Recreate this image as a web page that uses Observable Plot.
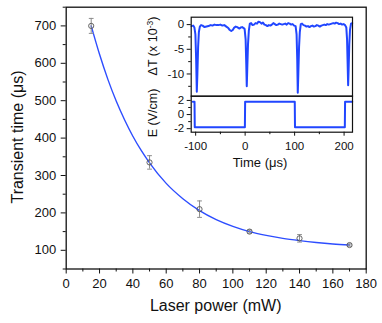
<!DOCTYPE html>
<html><head><meta charset="utf-8">
<script src="https://cdn.jsdelivr.net/npm/d3@7"></script>
<script src="https://cdn.jsdelivr.net/npm/@observablehq/plot@0.6"></script>
<style>
body{margin:0;background:#fff;}
#wrap{position:relative;width:382px;height:323px;font-family:"Liberation Sans",Arial,sans-serif;color:#111;overflow:hidden;}
.lab{position:absolute;white-space:nowrap;line-height:1;transform:translate(-50%,-50%);}
.rot{transform:translate(-50%,-50%) rotate(-90deg);}
sup{font-size:0.68em;vertical-align:0.45em;line-height:0;}
</style></head><body><div id="wrap"></div>
<script>
// ---- main chart data ----
const laserPower = [15, 50, 80, 110, 140, 170];
const transientTime = [700, 335, 210, 150, 132, 114];
const transientErr = [20, 18, 22, 4, 10, 3];
const fitPower = [15, 20, 25, 30, 35, 40, 45, 50, 60, 70, 80, 90, 100, 110, 120, 130, 140, 150, 160, 170];
const fitTime = [700, 624, 557, 499, 449, 405, 367, 334, 279, 238, 206, 182, 164, 150, 140, 132, 126, 121, 117, 114];
const xTicks = [0, 20, 40, 60, 80, 100, 120, 140, 160, 180];
const xMinor = [10, 30, 50, 70, 90, 110, 130, 150, 170];
const yTicks = [100, 200, 300, 400, 500, 600, 700];
const yMinor = [50, 150, 250, 350, 450, 550, 650, 750];

// ---- inset data ----
const dTtime = [-108.5,-105,-102.5,-100.5,-99,-97.7,-96.5,-95,-93.5,-91.5,-89,-86,-82,-78,-74,-70,-66,-62,-58,-54,-50,-46,-42,-38,-34,-31,-28,-25,-22,-19,-16,-12,-9,-6,-3,-1,1,2.3,3.3,4.3,5.8,7.5,9.5,12,15,18,21,24,27,30,33,36,39,42,45,48,51,54,57,60,63,66,69,72,75,78,81,84,87,90,93,96,99,102,104,105.3,106.4,107.5,109,110.5,112.5,115,118,121,124,127,130,133,136,139,142,145,148,151,154,157,160,163,166,169,172,175,178,181,184,187,190,193,196,199,202,204.5,206,207.2,208.2,209.2,210.5,212,214,216.5];
const dTvalue = [-0.3,-0.2,-0.6,-2,-7,-13.6,-10,-4.5,-1.5,-0.4,-0.1,-0.2,-0.5,-0.4,-0.3,-0.1,-0.2,0,-0.1,-0.1,0,-0.2,-0.1,-0.4,-0.7,-1.1,-1.3,-1.1,-0.6,-0.4,-0.5,-0.8,-0.6,-0.5,-0.7,-0.9,-3,-8,-12.5,-9,-4,-1.2,0.2,0.3,-0.1,0,0.3,0.2,0.6,0.5,0.2,0.4,0,-0.1,-0.3,-0.1,-0.2,0,0.3,0.1,-0.1,0,0.2,0.1,0,0.1,0.2,0,0.3,0.2,0,0.1,-0.2,-0.3,-2,-7,-13.8,-10,-4.5,-1.5,0.1,0.2,-0.1,-0.2,-0.4,-0.3,-0.5,-0.3,-0.2,-0.4,-0.3,-0.1,-0.2,-0.4,-0.2,-0.1,0,-0.1,0.1,0,0.1,0.2,0.3,0.2,0.4,0.3,0.1,0.2,0,0.1,-0.1,-0.6,-3,-8,-12.3,-9,-4,-1,0.2,0.3];
const eTime = [-105.8, -102.3, -101.8, -0.5, 0, 100.3, 100.8, 201.5, 202, 216.5];
const eValue = [1.8, 1.8, -1.8, -1.8, 1.8, 1.8, -1.8, -1.8, 1.8, 1.8];
const dTMajor = [0, -5, -10];
const dTMinor = [-2.5, -7.5, -12.5];
const eMajor = [2, 0, -2];
const eMinor = [1, -1];
const tMajor = [-100, 0, 100, 200];
const tMinor = [-50, 50, 150];

const FONT = '"Liberation Sans", Arial, sans-serif';
const BLUE = "#2146ff";
const GRAY = "#8c8c8c";

const points = laserPower.map((p, i) => ({p, t: transientTime[i], lo: transientTime[i] - transientErr[i], hi: transientTime[i] + transientErr[i]}));
const fit = fitPower.map((p, i) => ({p, t: fitTime[i]}));
const dT = dTtime.map((t, i) => ({t, v: dTvalue[i]}));
const eField = eTime.map((t, i) => ({t, v: eValue[i]}));

const cap = {draw(ctx, size) { const r = Math.sqrt(size / Math.PI); ctx.moveTo(-r, 0); ctx.lineTo(r, 0); }};
const fmt = d => String(d);

const wrap = document.getElementById("wrap");
function place(svg, left, top) {
  svg.style.position = "absolute";
  svg.style.left = left + "px";
  svg.style.top = top + "px";
  svg.style.background = "transparent";
  svg.style.overflow = "visible";
  svg.style.maxWidth = "none";
  wrap.appendChild(svg);
}

const main = Plot.plot({
  width: 382, height: 323,
  marginLeft: 65.7, marginRight: 16.3, marginTop: 6.7, marginBottom: 54.5,
  x: {domain: [0, 180]},
  y: {domain: [50, 750]},
  style: {fontFamily: FONT, fontSize: "13px", color: "#111"},
  marks: [
    Plot.axisX(xTicks, {tickSize: 5, tickPadding: 5, fontSize: 13, label: null, tickFormat: fmt}),
    Plot.axisX(xMinor, {tickSize: 3, fill: "none", label: null}),
    Plot.axisY(yTicks, {tickSize: 5, tickPadding: 5, fontSize: 13, label: null, tickFormat: fmt}),
    Plot.axisY(yMinor, {tickSize: 3, fill: "none", label: null}),
    Plot.line(fit, {x: "p", y: "t", stroke: "#2d4dff", strokeWidth: 1.4, curve: "monotone-x"}),
    Plot.ruleX(points, {x: "p", y1: "lo", y2: "hi", stroke: GRAY, strokeWidth: 1}),
    Plot.dot(points, {x: "p", y: "hi", symbol: cap, r: 2.4, stroke: GRAY, strokeWidth: 1}),
    Plot.dot(points, {x: "p", y: "lo", symbol: cap, r: 2.4, stroke: GRAY, strokeWidth: 1}),
    Plot.dot(points, {x: "p", y: "t", r: 2.6, stroke: "#555", strokeWidth: 0.9, fill: "none"}),
    Plot.frame({stroke: "#111", strokeWidth: 1.3})
  ]
});
place(main, 0, 0);

const insetTop = Plot.plot({
  width: 222, height: 97,
  marginLeft: 50.7, marginRight: 10, marginTop: 16.7, marginBottom: 1.3,
  x: {domain: [-109, 217], axis: null},
  y: {domain: [-14.5, 1.5]},
  style: {fontFamily: FONT, fontSize: "11.5px", color: "#111"},
  marks: [
    Plot.axisY(dTMajor, {tickSize: 4, tickPadding: 3, fontSize: 11.5, label: null, tickFormat: fmt}),
    Plot.axisY(dTMinor, {tickSize: 2.5, fill: "none", label: null}),
    Plot.line(dT, {x: "t", y: "v", stroke: BLUE, strokeWidth: 2}),
    Plot.frame({stroke: "#111", strokeWidth: 1.2})
  ]
});
place(insetTop, 140, 0);

const insetBottom = Plot.plot({
  width: 222, height: 75,
  marginLeft: 50.7, marginRight: 10, marginTop: 0.7, marginBottom: 38.3,
  x: {domain: [-109, 217]},
  y: {domain: [-2.5, 2.6]},
  style: {fontFamily: FONT, fontSize: "11.5px", color: "#111"},
  marks: [
    Plot.axisX(tMajor, {tickSize: 4, tickPadding: 5.5, fontSize: 11.5, label: null, tickFormat: fmt}),
    Plot.axisX(tMinor, {tickSize: 2.5, fill: "none", label: null}),
    Plot.axisY(eMajor, {tickSize: 4, tickPadding: 3, fontSize: 11.5, label: null, tickFormat: fmt}),
    Plot.axisY(eMinor, {tickSize: 2.5, fill: "none", label: null}),
    Plot.line(eField, {x: "t", y: "v", stroke: BLUE, strokeWidth: 2}),
    Plot.frame({stroke: "#111", strokeWidth: 1.2})
  ]
});
place(insetBottom, 140, 95);

function label(html, x, y, size, rotate) {
  const d = document.createElement("div");
  d.className = "lab" + (rotate ? " rot" : "");
  d.style.left = x + "px";
  d.style.top = y + "px";
  d.style.fontSize = size + "px";
  d.innerHTML = html;
  wrap.appendChild(d);
}
label("Transient time (μs)", 18, 137, 16, true);
label("Laser power (mW)", 215.7, 306, 16, false);
label("Time (μs)", 260, 162, 13, false);
label("ΔT (x 10<sup>-3</sup>)", 152.5, 46, 12.5, true);
label("E (V/cm)", 152.5, 113, 12.5, true);
</script></body></html>
